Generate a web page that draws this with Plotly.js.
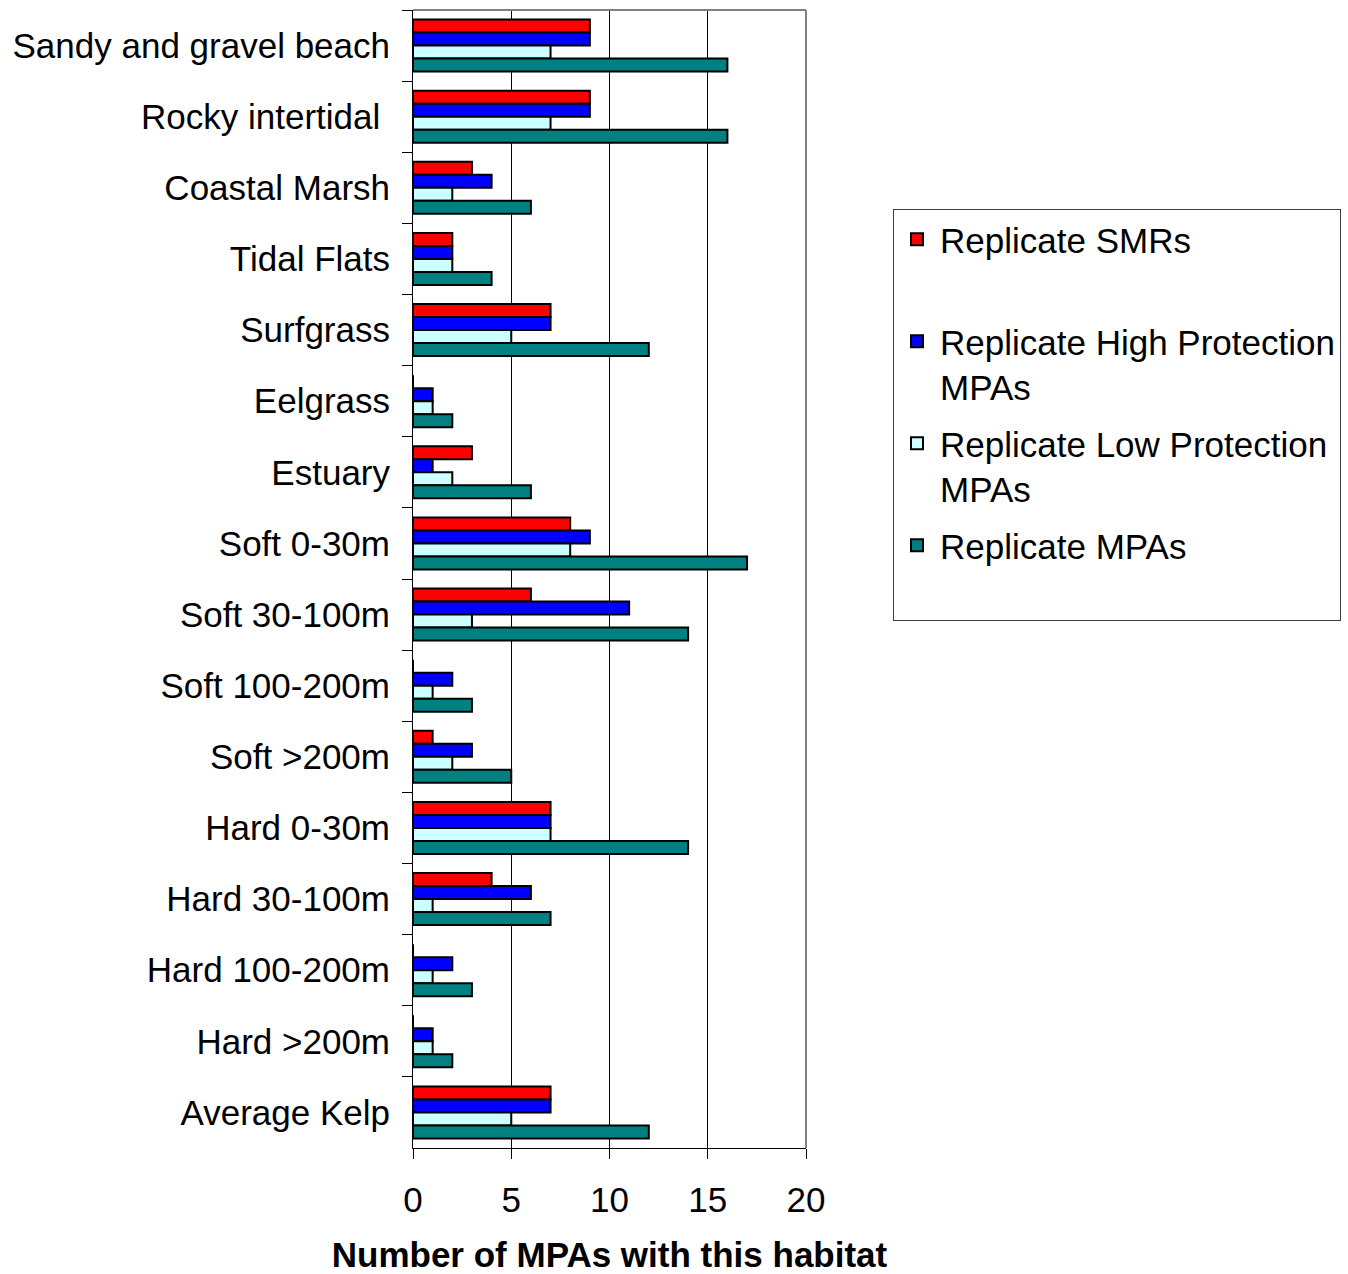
<!DOCTYPE html>
<html>
<head>
<meta charset="utf-8">
<script src="https://cdn.plot.ly/plotly-3.0.1.min.js"></script>
<style>
  html, body { margin: 0; padding: 0; background: #ffffff; }
  #chart { width: 1348px; height: 1274px; }
</style>
</head>
<body>
<div id="chart"></div>
<script>
const categories = [
  "Sandy and gravel beach", "Rocky intertidal\u00A0", "Coastal Marsh", "Tidal Flats",
  "Surfgrass", "Eelgrass", "Estuary", "Soft 0-30m", "Soft 30-100m",
  "Soft 100-200m", "Soft >200m", "Hard 0-30m", "Hard 30-100m",
  "Hard 100-200m", "Hard >200m", "Average Kelp"
];
const replicateSMRs  = [9, 9, 3, 2, 7, 0, 3, 8, 6, 0, 1, 7, 4, 0, 0, 7];
const replicateHigh  = [9, 9, 4, 2, 7, 1, 1, 9, 11, 2, 3, 7, 6, 2, 1, 7];
const replicateLow   = [7, 7, 2, 2, 5, 1, 2, 8, 3, 1, 2, 7, 1, 1, 1, 5];
const replicateMPAs  = [16, 16, 6, 4, 12, 2, 6, 17, 14, 3, 5, 14, 7, 3, 2, 12];
const seriesNames = [
  "Replicate SMRs\u00A0<br>\u00A0",
  "Replicate High Protection<br>MPAs",
  "Replicate Low Protection<br>MPAs",
  "Replicate MPAs<br>\u00A0"
];
const xTicks = [0, 5, 10, 15, 20];
const axisTitle = "Number of MPAs with this habitat";

const colors = ["#FF0000", "#0000FF", "#CCFFFF", "#008080"];
const values = [replicateSMRs, replicateHigh, replicateLow, replicateMPAs];
const FONT = "Liberation Sans, Arial, sans-serif";

const traces = values.map((v, i) => ({
  type: "bar",
  orientation: "h",
  name: seriesNames[i],
  legendgroup: "g" + i,
  x: v,
  y: categories,
  marker: { color: colors[i], line: { color: "#000000", width: 2 } },
  hoverinfo: "x+y"
}));

const layout = {
  width: 1348,
  height: 1274,
  margin: { l: 413, r: 542, t: 10, b: 126 },
  paper_bgcolor: "#ffffff",
  plot_bgcolor: "#ffffff",
  font: { family: FONT, size: 35, color: "#000000" },
  barmode: "group",
  bargap: 0.27,
  bargroupgap: 0,
  showlegend: true,
  legend: {
    xref: "container",
    yref: "container",
    x: 893 / 1348,
    y: 1 - 209 / 1274,
    xanchor: "left",
    yanchor: "top",
    bordercolor: "#404040",
    borderwidth: 1,
    bgcolor: "#ffffff",
    font: { family: FONT, size: 35, color: "#000000" },
    valign: "top",
    itemwidth: 36,
    tracegroupgap: 8,
    traceorder: "grouped"
  },
  xaxis: {
    range: [0, 20],
    tickvals: xTicks,
    ticktext: xTicks.map(String),
    ticks: "outside",
    ticklen: 10,
    tickcolor: "#000000",
    tickwidth: 1,
    showline: true,
    linecolor: "#000000",
    linewidth: 1,
    showgrid: true,
    gridcolor: "#000000",
    gridwidth: 1,
    zeroline: false,
    ticklabelstandoff: 11,
    automargin: false,
    fixedrange: true,
    title: {
      text: "<b>" + axisTitle + "</b>",
      font: { family: FONT, size: 35, color: "#000000" },
      standoff: 41
    }
  },
  yaxis: {
    type: "category",
    autorange: "reversed",
    ticks: "outside",
    tickson: "boundaries",
    ticklen: 10,
    tickcolor: "#000000",
    tickwidth: 1,
    showline: true,
    linecolor: "#000000",
    linewidth: 1,
    showgrid: false,
    zeroline: false,
    ticklabelstandoff: 15,
    automargin: false,
    fixedrange: true
  },
  shapes: [
    { type: "line", xref: "paper", yref: "paper", x0: 0, x1: 1, y0: 1, y1: 1,
      line: { color: "#808080", width: 2 }, layer: "above" },
    { type: "line", xref: "paper", yref: "paper", x0: 1, x1: 1, y0: 0, y1: 1,
      line: { color: "#808080", width: 2 }, layer: "above" }
  ]
};

Plotly.newPlot("chart", traces, layout, { displayModeBar: false, staticPlot: true });
</script>
</body>
</html>
